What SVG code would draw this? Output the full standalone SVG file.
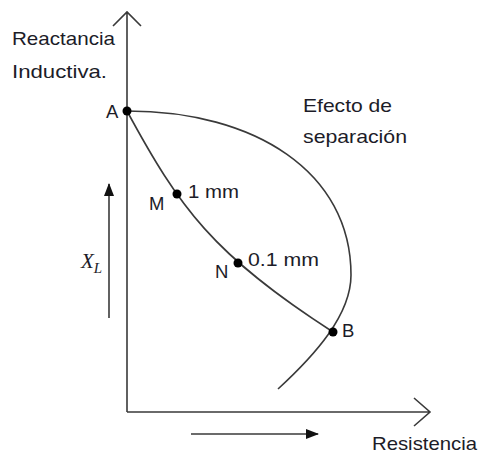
<svg xmlns="http://www.w3.org/2000/svg" width="481" height="455" viewBox="0 0 481 455">
<defs>
<style>
.ln{fill:none;stroke:#3a3a3a;stroke-width:1.6}
.t{font-family:"Liberation Sans",Arial,sans-serif;font-size:18.5px;fill:#1c1c28}
.dot{fill:#000}
</style>
<marker id="fh" viewBox="0 0 13 10" refX="12" refY="5" markerWidth="13" markerHeight="10" markerUnits="userSpaceOnUse" orient="auto">
<path d="M0,0 L13,5 L0,10 z" fill="#111"/>
</marker>
</defs>
<rect width="481" height="455" fill="#fff"/>
<g id="connectors">
<path id="y-axis" class="ln" d="M127,412 L127,13 M113,26 L127,12 L141,26"/>
<path id="x-axis" class="ln" d="M127,412 L430,412 M414,398 L430,412 L414,426"/>
<path id="curve-AB" class="ln" d="M127,111 C179,207 213,255 333,332"/>
<path id="curve-sep" class="ln" d="M127,111 C255,111 351,172 351,275 C351,315 315,355 278,389"/>
<line id="arrow-xl" class="ln" x1="109" y1="318" x2="109" y2="184" marker-end="url(#fh)"/>
<line id="arrow-r" class="ln" x1="191" y1="434" x2="318" y2="434" marker-end="url(#fh)"/>
</g>
<g id="label-y"><text class="t" x="12" y="45" textLength="103" lengthAdjust="spacingAndGlyphs">Reactancia</text><text class="t" x="12" y="78" textLength="95" lengthAdjust="spacingAndGlyphs">Inductiva.</text></g>
<g id="node-A"><circle class="dot" cx="127" cy="111" r="4.5"/><text class="t" x="106" y="118">A</text></g>
<g id="node-M"><circle class="dot" cx="177" cy="194" r="4.5"/><text class="t" x="149" y="210">M</text><text class="t" x="188" y="198" textLength="51" lengthAdjust="spacingAndGlyphs">1 mm</text></g>
<g id="node-N"><circle class="dot" cx="238" cy="263" r="4.5"/><text class="t" x="215" y="278">N</text><text class="t" x="248" y="266" textLength="71" lengthAdjust="spacingAndGlyphs">0.1 mm</text></g>
<g id="node-B"><circle class="dot" cx="333" cy="332" r="4.5"/><text class="t" x="342" y="337">B</text></g>
<g id="label-sep"><text class="t" x="303" y="112" textLength="89" lengthAdjust="spacingAndGlyphs">Efecto de</text><text class="t" x="303" y="143" textLength="104" lengthAdjust="spacingAndGlyphs">separación</text></g>
<g id="label-xl"><text x="81" y="268" style="font-family:'Liberation Serif','Times New Roman',serif;font-style:italic;font-size:21px;fill:#1c1c28">X<tspan font-size="15" dy="5">L</tspan></text></g>
<g id="label-r"><text class="t" x="372" y="450" textLength="105" lengthAdjust="spacingAndGlyphs">Resistencia</text></g>
</svg>
